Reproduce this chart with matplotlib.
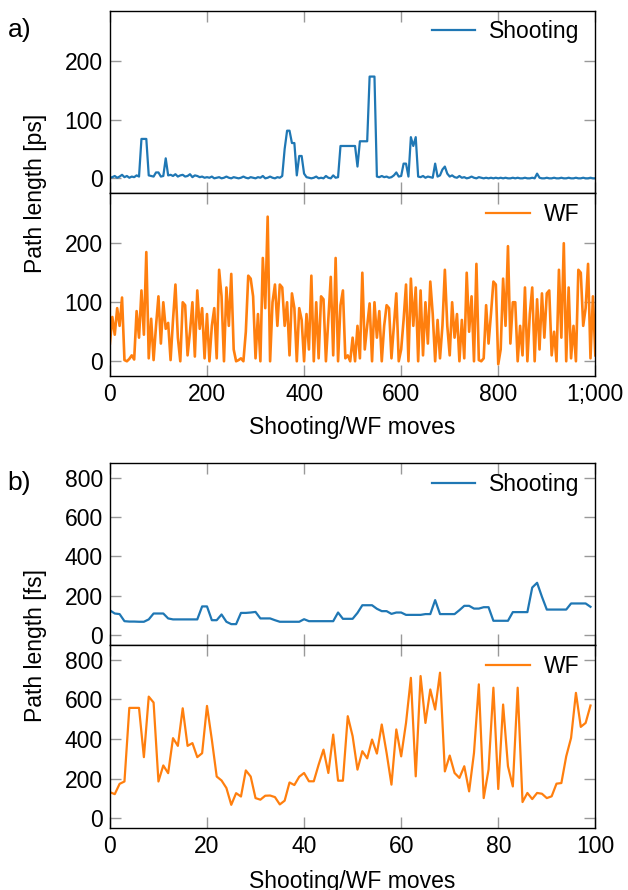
import numpy as np
import matplotlib
matplotlib.use("Agg")
import matplotlib.pyplot as plt

plt.rcParams['font.family'] = ['Liberation Sans', 'DejaVu Sans']

# panel a: 1000 moves, sampled every 5 moves
moves_a = np.arange(0, 1001, 5)
shoot_a = [
    1, 2, 4, 1, 3, 6, 2, 4, 1, 3, 2, 5, 3, 67, 67, 67, 5, 4, 3, 10,
    10, 3, 4, 34, 5, 6, 4, 7, 3, 5, 6, 3, 4, 7, 2, 5, 4, 2, 3, 1,
    2, 1, 3, 0, 1, 2, 0, 1, 3, 1, 0, 2, 1, 0, 1, 3, 1, 0, 2, 1,
    0, 2, 1, 4, 0, 1, 3, 1, 0, 2, 1, 4, 50, 81, 81, 60, 60, 5, 38, 38,
    8, 2, 1, 0, 1, 3, 0, 1, 0, 4, 1, 0, 5, 1, 2, 55, 55, 55, 55, 55,
    55, 55, 20, 63, 63, 63, 63, 173, 173, 173, 3, 2, 4, 2, 3, 1, 2, 5, 10, 3,
    4, 25, 25, 3, 70, 55, 70, 3, 2, 4, 1, 3, 2, 1, 25, 3, 5, 15, 20, 8,
    3, 5, 2, 1, 4, 1, 2, 0, 1, 3, 1, 0, 2, 1, 0, 1, 0, 1, 0, 1,
    0, 1, 0, 1, 0, 0, 1, 0, 1, 0, 0, 1, 0, 0, 1, 0, 8, 1, 0, 0,
    1, 0, 0, 1, 0, 0, 1, 0, 0, 1, 0, 0, 1, 0, 0, 1, 0, 0, 1, 0,
    0,
]
wf_a = [
    30, 75, 45, 90, 60, 108, 2, 0, 4, 10, 3, 85, 40, 120, 45, 185, 5, 72, 2, 60,
    110, 30, 100, 55, 65, 2, 70, 130, 40, 0, 100, 95, 10, 50, 100, 8, 120, 55, 90, 5,
    80, 0, 60, 90, 5, 155, 110, 0, 125, 60, 148, 20, 0, 2, 5, 0, 50, 145, 140, 110,
    5, 80, 0, 175, 90, 245, 0, 100, 130, 60, 130, 125, 60, 100, 10, 115, 90, 0, 90, 70,
    0, 80, 20, 145, 0, 100, 5, 110, 105, 0, 70, 143, 10, 175, 0, 95, 120, 5, 10, 0,
    40, 0, 60, 5, 150, 20, 60, 98, 0, 100, 40, 85, 0, 60, 95, 90, 5, 60, 115, 0,
    20, 70, 130, 0, 140, 60, 125, 0, 120, 10, 100, 30, 135, 80, 0, 70, 5, 60, 155, 60,
    10, 100, 40, 80, 0, 70, 5, 150, 50, 110, 0, 165, 2, 0, 5, 95, 30, 80, 135, 130,
    -5, 20, 140, 60, 195, 30, 100, 100, 0, 60, 10, 125, 0, 80, 125, 0, 105, 20, 115, 40,
    115, 120, 10, 50, 0, 155, 40, 200, 0, 125, 5, 60, 0, 155, 150, 60, 90, 165, 5, 110,
    10,
]

# panel b: 100 moves
moves_b = np.arange(100)
shoot_b = [
    126, 110, 107, 71, 69, 69, 68, 68, 80, 110, 110, 110, 85, 80, 80, 80, 80, 80, 80, 146,
    146, 76, 76, 105, 68, 56, 56, 113, 113, 115, 118, 85, 85, 85, 76, 68, 68, 68, 68, 68,
    81, 71, 71, 71, 71, 71, 71, 115, 83, 83, 83, 113, 152, 152, 152, 134, 122, 122, 108, 115,
    115, 103, 103, 103, 103, 107, 107, 178, 107, 107, 107, 107, 127, 149, 149, 135, 135, 142, 142, 73,
    73, 73, 73, 117, 117, 117, 117, 242, 266, 195, 130, 130, 130, 130, 130, 161, 161, 161, 161, 144,
]
wf_b = [
    131, 121, 173, 185, 557, 557, 557, 308, 614, 584, 185, 266, 227, 404, 365, 555, 365, 379, 308, 328,
    567, 396, 210, 190, 152, 67, 126, 109, 241, 210, 101, 93, 113, 114, 106, 69, 88, 180, 167, 209,
    228, 186, 186, 270, 346, 228, 422, 189, 189, 515, 414, 245, 338, 302, 397, 326, 473, 329, 169, 448,
    312, 481, 709, 211, 718, 481, 650, 549, 735, 236, 316, 228, 203, 262, 135, 329, 676, 101, 245, 659,
    147, 574, 262, 160, 659, 81, 127, 96, 127, 123, 101, 110, 174, 177, 312, 405, 633, 461, 481, 569,
]

blue = '#1f77b4'
orange = '#ff7f0e'
fs = 16.5

fig = plt.figure(figsize=(6.28, 8.90), dpi=100)


def style(ax):
    ax.tick_params(direction='in', length=8, width=1.0, color='#999999',
                   top=True, right=True, labelsize=fs, pad=5, labelcolor='black')
    for s in ax.spines.values():
        s.set_color('black')
        s.set_linewidth(1.0)


def panel(top, bottom, mid, xs, s_vals, w_vals, lw_w, xlim, ylim, yticks, xticks, xlabels, ylabel, tag, xlpad):
    left, width = 0.175, 0.773
    ax1 = fig.add_axes([left, mid, width, top - mid])
    ax2 = fig.add_axes([left, bottom, width, mid - bottom], sharex=ax1)
    ax1.plot(xs, s_vals, color=blue, lw=1.6, label='Shooting')
    ax2.plot(xs, w_vals, color=orange, lw=lw_w, label='WF')
    for ax in (ax1, ax2):
        ax.set_xlim(*xlim)
        ax.set_ylim(*ylim)
        ax.set_yticks(yticks)
        style(ax)
        leg = ax.legend(loc='upper right', bbox_to_anchor=(1.0, 1.035), frameon=False,
                        fontsize=fs, handlelength=1.9, borderaxespad=0.3, handletextpad=0.6)
        for h in leg.get_lines():
            h.set_linewidth(1.6)
    ax2.set_xticks(xticks)
    ax2.set_xticklabels(xlabels)
    ax1.tick_params(labelbottom=False)
    ax2.tick_params(axis='x', pad=5)
    ax2.set_xlabel('Shooting/WF moves', fontsize=fs, labelpad=xlpad)
    fig.text(0.056, (top + bottom) / 2, ylabel, rotation=90, fontsize=fs,
             ha='center', va='center')
    fig.text(0.012, top - 0.022, tag, fontsize=19, ha='left', va='center')
    return ax1, ax2


panel(0.988, 0.5775, 0.7831, moves_a, shoot_a, wf_a, 1.9, (0, 1000), (-25, 285),
      [0, 100, 200], [0, 200, 400, 600, 800, 1000],
      ['0', '200', '400', '600', '800', '1;000'], 'Path length [ps]', 'a)', 7)
panel(0.4798, 0.0697, 0.2753, moves_b, shoot_b, wf_b, 1.6, (0, 100), (-50, 875),
      [0, 200, 400, 600, 800], [0, 20, 40, 60, 80, 100],
      ['0', '20', '40', '60', '80', '100'], 'Path length [fs]', 'b)', 9)

fig.savefig('out.png', dpi=100)
